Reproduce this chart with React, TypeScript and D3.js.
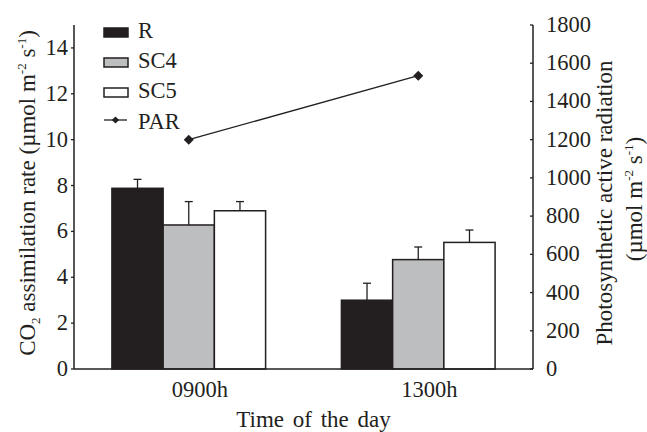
import React from "react";
import * as d3 from "d3";

// time points and treatments
const times = ["0900h", "1300h"];
const treatments = ["R", "SC4", "SC5"];

// CO2 assimilation means and upper error bar ends, by treatment, one value per time
const rateR = [7.88, 3.0];
const rateSC4 = [6.28, 4.77];
const rateSC5 = [6.9, 5.52];
const errR = [8.27, 3.74];
const errSC4 = [7.3, 5.32];
const errSC5 = [7.3, 6.06];

// photosynthetic active radiation
const par = [1200, 1535];

const leftTicks = [0, 2, 4, 6, 8, 10, 12, 14];
const rightTicks = [0, 200, 400, 600, 800, 1000, 1200, 1400, 1600, 1800];

const fills: Record<string, string> = { R: "#231f20", SC4: "#bcbec0", SC5: "#ffffff" };
const ink = "#231f20";
const font = "Liberation Serif";

export default function App() {
  const width = 647;
  const height = 432;
  const margin = { left: 74, right: 114, top: 25, bottom: 63 };

  const means: Record<string, number[]> = { R: rateR, SC4: rateSC4, SC5: rateSC5 };
  const errs: Record<string, number[]> = { R: errR, SC4: errSC4, SC5: errSC5 };

  const y = d3.scaleLinear().domain([0, 15]).range([height - margin.bottom, margin.top]);
  const yR = d3.scaleLinear().domain([0, 1800]).range([height - margin.bottom, margin.top]);
  const x0 = d3.scaleBand().domain(times).range([margin.left, width - margin.right]);
  const x1 = d3.scaleBand().domain(treatments).range([0, x0.bandwidth()]).paddingOuter(0.74);

  const xl = margin.left;
  const xr = width - margin.right;
  const yb = height - margin.bottom;

  const parLine = d3.line<number>()
    .x((_, i) => x0(times[i])! + x0.bandwidth() / 2)
    .y(d => yR(d));

  const diamond = d3.symbol(d3.symbolSquare, 50)()!;
  const smallDiamond = d3.symbol(d3.symbolSquare, 26)()!;

  return (
    <svg width={width} height={height} style={{ position: "absolute", left: 0, top: 0, background: "#fff", fontFamily: font }}
      fill={ink}>
      {/* bars */}
      {times.map((t, i) => (
        <g key={t} transform={`translate(${x0(t)},0)`}>
          {treatments.map(k => {
            const bx = x1(k)!;
            const cx = bx + x1.bandwidth() / 2;
            return (
              <g key={k}>
                <line x1={cx} x2={cx} y1={y(means[k][i])} y2={y(errs[k][i])} stroke={ink} strokeWidth={1.3} />
                <line x1={cx - 4} x2={cx + 4} y1={y(errs[k][i])} y2={y(errs[k][i])} stroke={ink} strokeWidth={1.3} />
                <rect x={bx} y={y(means[k][i])} width={x1.bandwidth()} height={yb - y(means[k][i])}
                  fill={fills[k]} stroke={ink} strokeWidth={1.5} />
              </g>
            );
          })}
          <text x={x0.bandwidth() / 2 + 11} y={yb + 28} textAnchor="middle" fontSize={22.5}>{t}</text>
        </g>
      ))}

      {/* PAR line */}
      <path d={parLine(par)!} fill="none" stroke={ink} strokeWidth={1.3} />
      {par.map((v, i) => (
        <path key={i} d={diamond} fill={ink}
          transform={`translate(${x0(times[i])! + x0.bandwidth() / 2},${yR(v)}) rotate(45)`} />
      ))}

      {/* axes */}
      <line x1={xl} x2={xr} y1={yb} y2={yb} stroke={ink} strokeWidth={1.5} />
      <line x1={xl} x2={xl} y1={yb} y2={margin.top} stroke={ink} strokeWidth={1.5} />
      <line x1={xr} x2={xr} y1={yb} y2={margin.top} stroke={ink} strokeWidth={1.5} />
      {leftTicks.map(v => (
        <g key={v}>
          <line x1={xl - 3} x2={xl} y1={y(v)} y2={y(v)} stroke={ink} strokeWidth={1.3} />
          <text x={xl - 6} y={y(v) + 7} textAnchor="end" fontSize={22.5}>{v}</text>
        </g>
      ))}
      {rightTicks.map(v => (
        <g key={v}>
          <line x1={xr - 3} x2={xr} y1={yR(v)} y2={yR(v)} stroke={ink} strokeWidth={1.3} />
          <text x={xr + 13} y={yR(v) + 7} textAnchor="start" fontSize={22.5}>{v}</text>
        </g>
      ))}

      {/* axis titles */}
      <text x={(xl + xr) / 2 + 10} y={427} textAnchor="middle" fontSize={23} wordSpacing={3}>Time of the day</text>
      <text transform={`translate(35,${(yb + margin.top) / 2 - 4}) rotate(-90)`} textAnchor="middle" fontSize={23}>
        CO<tspan fontSize={13} dy={5}>2</tspan>
        <tspan dy={-5}> assimilation rate (µmol m</tspan>
        <tspan fontSize={13} dy={-9}>-2</tspan>
        <tspan dy={9}> s</tspan>
        <tspan fontSize={13} dy={-9}>-1</tspan>
        <tspan dy={9}>)</tspan>
      </text>
      <text transform={`translate(612,${(yb + margin.top) / 2 + 6}) rotate(-90)`} textAnchor="middle" fontSize={23}>
        Photosynthetic active radiation
      </text>
      <text transform={`translate(642,${(yb + margin.top) / 2 + 2}) rotate(-90)`} textAnchor="middle" fontSize={23}>
        (µmol m<tspan fontSize={13} dy={-9}>-2</tspan>
        <tspan dy={9}> s</tspan>
        <tspan fontSize={13} dy={-9}>-1</tspan>
        <tspan dy={9}>)</tspan>
      </text>

      {/* legend */}
      {treatments.map((k, i) => (
        <g key={k} transform={`translate(104,${28 + i * 30})`}>
          <rect x={0} y={0} width={24} height={9} fill={fills[k]} stroke={ink} strokeWidth={1.5} />
          <text x={34} y={10} fontSize={22.5}>{k}</text>
        </g>
      ))}
      <g transform="translate(104,120)">
        <line x1={0} x2={23} y1={0} y2={0} stroke={ink} strokeWidth={1.3} />
        <path d={smallDiamond} transform="translate(11.5,0) rotate(45)" fill={ink} />
        <text x={34} y={9} fontSize={22.5}>PAR</text>
      </g>
    </svg>
  );
}
